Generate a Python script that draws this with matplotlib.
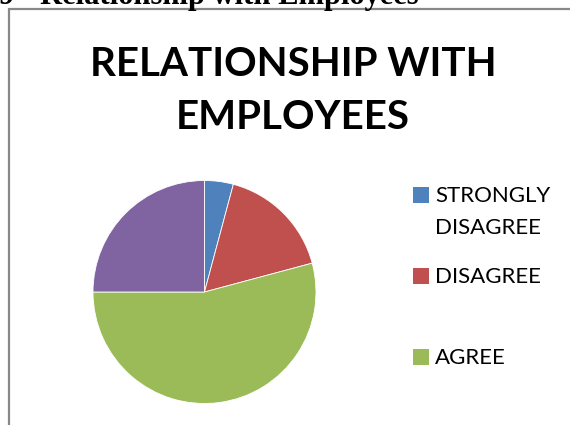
import matplotlib
matplotlib.use("Agg")
import matplotlib.pyplot as plt
from matplotlib.patches import Rectangle

categories = ["STRONGLY\nDISAGREE", "DISAGREE", "AGREE", "STRONGLY\nAGREE"]
values = [5, 20, 65, 30]
colors = ["#4F81BD", "#C0504D", "#9BBB59", "#8064A2"]
title = "RELATIONSHIP WITH\nEMPLOYEES"
header_num = "9"
header = "Relationship with Employees"

W, H = 570, 425
fig = plt.figure(figsize=(W / 100, H / 100), dpi=100)

def fx(px):
    return px / W

def fy(py):
    return 1 - py / H

# chart frame
fig.patches.append(Rectangle((fx(9), fy(H + 20)), fx(W + 20 - 9), (H + 20 - 9) / H,
                             transform=fig.transFigure, fill=False,
                             edgecolor="#888888", linewidth=1.6))

# cropped header text
fig.text(fx(-2), fy(4), header_num, fontfamily="Liberation Serif", fontweight="bold",
         fontsize=22, va="baseline", ha="left")
fig.text(fx(40), fy(4), header, fontfamily="Liberation Serif", fontweight="bold",
         fontsize=22, va="baseline", ha="left")

# title
fig.text(fx(293), fy(91), title, fontfamily="Lato", fontweight="bold",
         fontsize=29, ha="center", va="center", linespacing=1.52)

# pie
cx, cy, r = 204.5, 292, 111.5
ax = fig.add_axes([fx(cx - r), fy(cy + r), 2 * r / W, 2 * r / H])
ax.pie(values, colors=colors, startangle=90, counterclock=False, radius=1,
       wedgeprops=dict(edgecolor="white", linewidth=0.6))
ax.set_xlim(-1.0, 1.0)
ax.set_ylim(-1.0, 1.0)
ax.set_aspect("equal")
ax.axis("off")

# legend (last entry falls off the cropped bottom)
y0, step = 195, 80.8
for i, (lab, col) in enumerate(zip(categories, colors)):
    yc = y0 + i * step
    fig.patches.append(Rectangle((fx(413), fy(yc + 8)), fx(16), 16 / H,
                                 transform=fig.transFigure, facecolor=col,
                                 edgecolor="none"))
    fig.text(fx(435), fy(yc - 9), lab, fontfamily="Lato", fontsize=16,
             ha="left", va="top", linespacing=1.75)

fig.savefig("out.png", dpi=100)
